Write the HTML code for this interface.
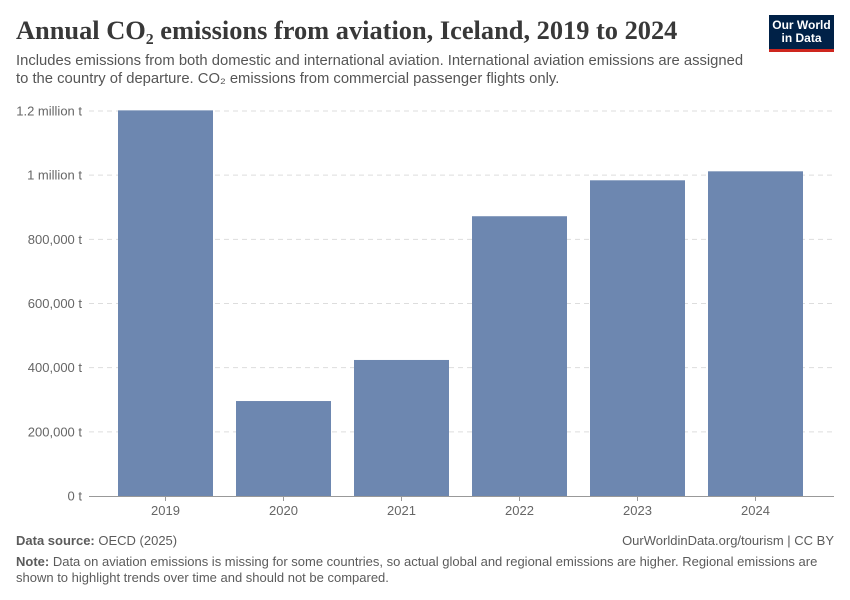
<!DOCTYPE html>
<html><head><meta charset="utf-8"><style>
body{margin:0;background:#fff;font-family:"Liberation Sans",sans-serif;}
#wrap{position:relative;width:850px;height:600px;overflow:hidden;}
.t{position:absolute;white-space:nowrap;}
</style></head><body>
<div id="wrap">
<div class="t" style="left:16px;top:15px;font-family:'Liberation Serif',serif;font-size:26.4px;font-weight:bold;color:#383838;">Annual CO₂ emissions from aviation, Iceland, 2019 to 2024</div>
<div class="t" style="left:16px;top:52px;font-size:14.8px;line-height:18px;color:#555;">Includes emissions from both domestic and international aviation. International aviation emissions are assigned<br>to the country of departure. CO₂ emissions from commercial passenger flights only.</div>
<div style="position:absolute;left:769px;top:15px;width:65px;height:37px;background:#002147;border-bottom:3px solid #ce261e;box-sizing:border-box;color:#fff;font-size:12px;line-height:13px;text-align:center;padding-top:4px;font-weight:bold;">Our World<br>in Data</div>
<svg id="chart" width="850" height="600" style="position:absolute;left:0;top:0"></svg>
<div class="t" style="left:16px;top:533px;font-size:13px;color:#5b5b5b;"><b>Data source:</b> OECD (2025)</div>
<div class="t" style="right:16px;top:533px;font-size:13px;color:#5b5b5b;">OurWorldinData.org/tourism | CC BY</div>
<div class="t" style="left:16px;top:554px;font-size:13px;line-height:16px;color:#5b5b5b;"><b>Note:</b> Data on aviation emissions is missing for some countries, so actual global and regional emissions are higher. Regional emissions are<br>shown to highlight trends over time and should not be compared.</div>
</div>
<script>
const years=["2019","2020","2021","2022","2023","2024"];
const emissions=[1202000,296000,424000,872000,984000,1012000];
const ticks=[0,200000,400000,600000,800000,1000000,1200000];
const tickLabels=["0 t","200,000 t","400,000 t","600,000 t","800,000 t","1 million t","1.2 million t"];
const NS="http://www.w3.org/2000/svg";
const svg=document.getElementById('chart');
const y0=496,yTop=111,yMax=1200000;
function y(v){return y0-(v/yMax)*(y0-yTop);}
const bx0=106.5,step=118,bw=95;
function x(i){return bx0+i*step;}
function el(t,a){const e=document.createElementNS(NS,t);for(const k in a)e.setAttribute(k,a[k]);svg.appendChild(e);return e;}
ticks.forEach((v,i)=>{
 if(v>0){const l=el('line',{x1:89,x2:834,y1:y(v),y2:y(v),stroke:'#ddd','stroke-dasharray':'5,4'});
 
 }
 const t=el('text',{x:82,y:y(v)+4.5,'text-anchor':'end','font-size':'13','fill':'#666','font-family':'Liberation Sans, sans-serif'});
 t.textContent=tickLabels[i];
 
 
});
emissions.forEach((v,i)=>{
 const r=el('rect',{x:x(i)+11.5,y:y(v),width:bw,height:y0-y(v),fill:'#6d87b0'});
 
 
 const tk=el('line',{x1:x(i)+59,x2:x(i)+59,y1:y0,y2:y0+5,stroke:'#999'});
 
 
 const t=el('text',{x:x(i)+59,y:y0+19,'text-anchor':'middle','font-size':'13','fill':'#666','font-family':'Liberation Sans, sans-serif'});
 t.textContent=years[i];
 
 
});
const ax=el('line',{x1:89,x2:834,y1:y0+0.5,y2:y0+0.5,stroke:'#999'});


</script>
</body></html>
